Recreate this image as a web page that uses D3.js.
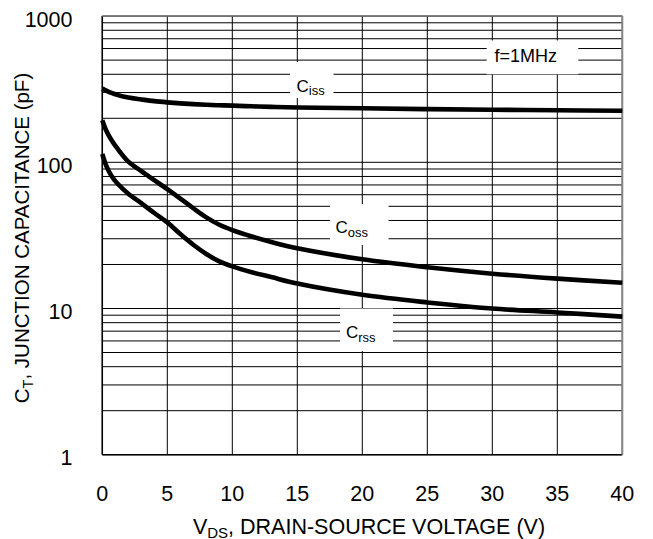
<!DOCTYPE html>
<html>
<head>
<meta charset="utf-8">
<script src="https://cdn.jsdelivr.net/npm/d3@7"></script>
<style>
  html, body { margin: 0; padding: 0; background: #fff; }
  svg { display: block; font-family: "Liberation Sans", Arial, sans-serif; }
</style>
</head>
<body>
<svg id="chart" width="653" height="539"></svg>
<script>
// Drain-source voltage sample points (V)
const vds = [0, 0.3, 0.7, 1.2, 2, 3, 4, 5, 6, 7, 8, 9, 10, 11.5, 13, 15, 20, 25, 30, 35, 40];
// Capacitances (pF) at each sample point
const ciss = [320, 309, 298, 288, 277, 269, 262, 257, 253, 250, 247.5, 245.5, 244, 241.5, 239.5, 237, 234, 231, 229, 227, 225];
const coss = [194, 165, 142, 123, 101, 87, 75.5, 65.5, 56.5, 48.5, 42, 37.4, 34.4, 31.1, 28.5, 25.8, 21.7, 19.15, 17.3, 16.0, 15.0];
const crss = [114, 95, 81, 71, 61, 52.5, 45, 38.8, 32.3, 27.3, 23.6, 21.0, 19.4, 17.7, 16.4, 14.8, 12.4, 11.0, 10.0, 9.4, 8.8];

const xTicks = [0, 5, 10, 15, 20, 25, 30, 35, 40];
const yTicks = [1, 10, 100, 1000];
const yTickLabels = ["1", "10", "100", "1000"];

const svg = d3.select("#chart");
const plot = { left: 102.3, right: 622.3, top: 16.1, bottom: 454.7 };

const x = d3.scaleLinear().domain([0, 40]).range([plot.left, plot.right]);
const y = d3.scaleLog().domain([1, 1000]).range([plot.bottom, plot.top]);

// Grid: log minor lines for each decade, linear verticals every 5 V
const yGrid = [];
for (let d = 1; d < 1000; d *= 10) for (let m = 1; m <= 9; m++) yGrid.push(m * d);
yGrid.push(1000);

const grid = svg.append("g").attr("stroke", "#000").attr("stroke-width", 1);
grid.selectAll("line.h").data(yGrid).join("line").attr("class", "h")
  .attr("x1", plot.left).attr("x2", plot.right)
  .attr("y1", d => y(d)).attr("y2", d => y(d));
grid.selectAll("line.v").data(xTicks).join("line").attr("class", "v")
  .attr("x1", d => x(d)).attr("x2", d => x(d))
  .attr("y1", plot.top).attr("y2", plot.bottom);

// Frame
svg.append("line").attr("x1", plot.left).attr("x2", plot.left).attr("y1", plot.top).attr("y2", plot.bottom)
  .attr("stroke", "#000").attr("stroke-width", 1.5);
svg.append("line").attr("x1", plot.left).attr("x2", plot.right).attr("y1", plot.bottom).attr("y2", plot.bottom)
  .attr("stroke", "#000").attr("stroke-width", 1.5);
svg.append("line").attr("x1", plot.left).attr("x2", plot.right).attr("y1", plot.top).attr("y2", plot.top)
  .attr("stroke", "#777").attr("stroke-width", 1.5);
svg.append("line").attr("x1", plot.right).attr("x2", plot.right).attr("y1", plot.top).attr("y2", plot.bottom)
  .attr("stroke", "#888").attr("stroke-width", 2);

// Curve labels sit in white boxes that interrupt the grid
const labels = [
  { main: "C", sub: "iss", box: [290, 62, 333.5, 98], tx: 296.5, ty: 91.5 },
  { main: "C", sub: "oss", box: [330, 204, 388.5, 245], tx: 335.5, ty: 233 },
  { main: "C", sub: "rss", box: [340, 308.5, 393, 351], tx: 346, ty: 338.3 },
  { main: "f=1MHz", sub: "", box: [486.7, 40.5, 578.3, 74.3], tx: 494.5, ty: 62 }
];
const lab = svg.append("g");
labels.forEach(l => {
  lab.append("rect").attr("x", l.box[0]).attr("y", l.box[1])
    .attr("width", l.box[2] - l.box[0]).attr("height", l.box[3] - l.box[1])
    .attr("fill", "#fff");
  const t = lab.append("text").attr("x", l.tx).attr("y", l.ty)
    .attr("font-size", l.sub ? 17 : 18).attr("fill", "#000");
  t.append("tspan").text(l.main);
  if (l.sub) t.append("tspan").attr("font-size", 13).attr("dy", 3.5).text(l.sub);
});

// Capacitance curves
const line = d3.line().x(d => x(d[0])).y(d => y(d[1])).curve(d3.curveCatmullRom.alpha(0.5));
[ciss, coss, crss].forEach(series => {
  svg.append("path")
    .datum(vds.map((v, i) => [v, series[i]]))
    .attr("d", line)
    .attr("fill", "none").attr("stroke", "#000").attr("stroke-width", 4.6);
});

// Tick labels
svg.append("g").selectAll("text").data(xTicks).join("text")
  .attr("x", d => x(d)).attr("y", 500.7)
  .attr("text-anchor", "middle").attr("font-size", 21.5).text(d => d);
svg.append("g").selectAll("text").data(yTicks).join("text")
  .attr("x", 72.5).attr("y", d => y(d) + 10.5)
  .attr("text-anchor", "end").attr("font-size", 21.5)
  .text((d, i) => yTickLabels[i]);

// Axis titles
const xt = svg.append("text").attr("x", 369).attr("y", 533.5)
  .attr("text-anchor", "middle").attr("font-size", 21.5);
xt.append("tspan").text("V");
xt.append("tspan").attr("font-size", 15).attr("dy", 4).text("DS");
xt.append("tspan").attr("dy", -4).text(", DRAIN-SOURCE VOLTAGE (V)");

const yt = svg.append("text").attr("transform", "translate(29,238) rotate(-90)")
  .attr("text-anchor", "middle").attr("font-size", 20.5);
yt.append("tspan").text("C");
yt.append("tspan").attr("font-size", 14.5).attr("dy", 4).text("T");
yt.append("tspan").attr("dy", -4).text(", JUNCTION CAPACITANCE (pF)");
</script>
</body>
</html>
